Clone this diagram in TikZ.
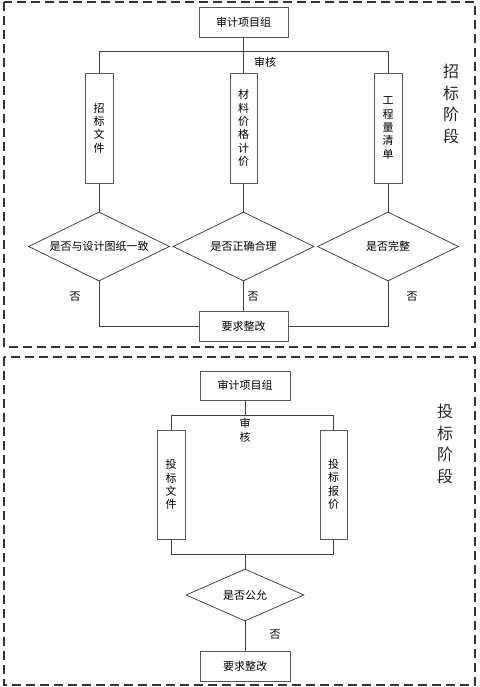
\documentclass[tikz,border=0pt]{standalone}
\usepackage{fontspec}
\setmainfont{Noto Sans CJK SC}
\usetikzlibrary{shapes.geometric}
\tikzset{
  boxh/.style={draw=black!65, line width=0.9pt, rectangle, inner sep=0pt, minimum width=89pt, minimum height=30pt, font=\fontsize{11}{13}\selectfont},
  boxv/.style={draw=black!65, line width=0.9pt, rectangle, inner sep=0pt, minimum width=28pt, minimum height=110pt, align=center, font=\fontsize{11}{13.3}\selectfont},
  dec/.style={draw=black!80, line width=0.7pt, diamond, shape aspect=2, inner sep=0pt, font=\fontsize{11}{13}\selectfont},
  conn/.style={draw=black!75, line width=0.9pt},
  lbl/.style={inner sep=0pt, font=\fontsize{11}{13}\selectfont},
  stage/.style={inner sep=0pt, align=center, font=\fontsize{16}{21.7}\selectfont, text=black!85},
  frame/.style={draw=black!80, line width=1.4pt, dash pattern=on 9pt off 5pt}
}
\begin{document}
\begin{tikzpicture}[x=1pt,y=-1pt]
\useasboundingbox (0,0) rectangle (479,687);
\fill[white] (0,0) rectangle (479,687);
% frames
\draw[frame] (4,2) rectangle (475,347);
\draw[frame] (4,357) rectangle (475,685);

% ---- top section ----
\node[boxh] (g1) at (243.5,22) {审计项目组};
\node[boxv] (t1) at (99,128) {招\\标\\文\\件};
\node[boxv, minimum width=27pt] (t2) at (243.5,128) {材\\料\\价\\格\\计\\价};
\node[boxv] (t3) at (388,128) {工\\程\\量\\清\\单};
\node[dec, minimum width=141pt, minimum height=69pt] (d1) at (99,246.5) {是否与设计图纸一致};
\node[dec, minimum width=141pt, minimum height=69pt] (d2) at (243.5,246.5) {是否正确合理};
\node[dec, minimum width=141pt, minimum height=69pt] (d3) at (388,246.5) {是否完整};
\node[boxh] (r1) at (243.5,326) {要求整改};
\node[lbl] (sh1) at (265,62) {审核};
\node[lbl] (n1) at (75,297) {否};
\node[lbl] (n2) at (253,297) {否};
\node[lbl] (n3) at (412,297) {否};
\node[stage] (s1) at (451,104) {招\\标\\阶\\段};

\draw[conn] (t1.north) -- ++(0,-21) -| (t3.north);
\draw[conn] (g1.south) -- (t2.north);
\draw[conn] (t1.south) -- (d1.north);
\draw[conn] (t2.south) -- (d2.north);
\draw[conn] (t3.south) -- (d3.north);
\draw[conn] (d1.south) |- (r1.west);
\draw[conn] (d2.south) -- (r1.north);
\draw[conn] (d3.south) |- (r1.east);

% ---- bottom section ----
\node[boxh, minimum width=90pt, minimum height=29pt] (g2) at (245,385.5) {审计项目组};
\node[boxv, minimum height=109pt] (b1) at (171,484.5) {投\\标\\文\\件};
\node[boxv, minimum height=109pt, minimum width=27pt] (b2) at (333.5,484.5) {投\\标\\报\\价};
\coordinate (h2) at (245,416);
\coordinate (j2) at (245,554);
\node[dec, minimum width=118pt, minimum height=52pt] (d4) at (245,595) {是否公允};
\node[boxh, minimum width=90pt] (r2) at (245,666) {要求整改};
\node[lbl, align=center, font=\fontsize{11}{14}\selectfont] (sh2) at (245,430) {审\\核};
\node[lbl] (n4) at (275,635) {否};
\node[stage] (s2) at (445,444) {投\\标\\阶\\段};

\draw[conn] (g2.south) -- (h2);
\draw[conn] (b1.north) -- ++(0,-14) -| (b2.north);
\draw[conn] (b1.south) -- ++(0,15) -| (b2.south);
\draw[conn] (j2) -- (d4.north);
\draw[conn] (d4.south) -- (r2.north);
\end{tikzpicture}
\end{document}
